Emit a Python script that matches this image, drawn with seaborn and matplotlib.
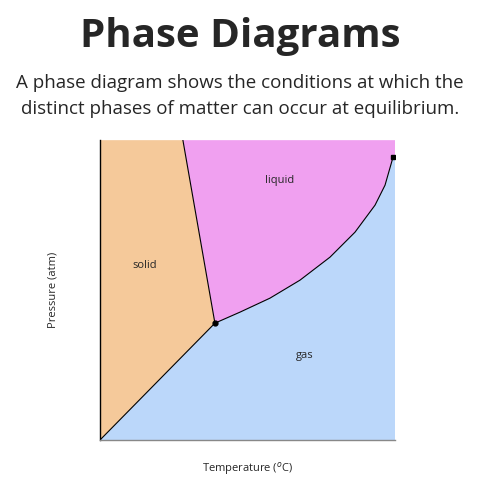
import seaborn as sns
import matplotlib.pyplot as plt
import numpy as np

sns.set_style("white")
plt.rcParams['font.family'] = ['Open Sans', 'DejaVu Sans']

# phase boundaries (arbitrary units)
sublimation_T = [0, 115]
sublimation_P = [0, 117]
melting_T = [115, 83]
melting_P = [117, 300]
vapor_T = [115, 140, 170, 200, 230, 255, 275, 285, 293]
vapor_P = [117, 128, 142, 160, 183, 208, 235, 255, 283]
phase_labels = ["solid", "liquid", "gas"]
label_T = [45, 180, 205]
label_P = [175, 260, 85]

T_max, P_max = 295, 300

fig = plt.figure(figsize=(4.8, 4.8), dpi=100)
ax = fig.add_axes([0.208, 0.083, 0.615, 0.625])

# gas region: below sublimation + vapour curve
gas_T = sublimation_T + vapor_T[1:] + [T_max, T_max]
gas_P = sublimation_P + vapor_P[1:] + [vapor_P[-1], 0]
ax.fill(gas_T + [0], gas_P + [0], color="#BBD7FA", lw=0)
# solid region
ax.fill([0, 0, melting_T[1], melting_T[0]], [0, P_max, P_max, melting_P[0]],
        color="#F5C99A", lw=0)
# liquid region
liq_T = [melting_T[1]] + vapor_T + [T_max, T_max]
liq_P = [P_max] + vapor_P + [vapor_P[-1], P_max]
ax.fill(liq_T, liq_P, color="#F0A0F0", lw=0)

sns.lineplot(x=sublimation_T, y=sublimation_P, color="black", lw=0.8, ax=ax)
sns.lineplot(x=melting_T, y=melting_P, color="black", lw=0.8, ax=ax)
ax.plot(vapor_T, vapor_P, color="black", lw=0.8)
ax.plot([vapor_T[0]], [vapor_P[0]], "o", color="black", ms=3.5)
ax.plot([vapor_T[-1]], [vapor_P[-1]], "s", color="black", ms=3.5)

for t, p, s in zip(label_T, label_P, phase_labels):
    ax.text(t, p, s, fontsize=8, ha="center", va="center")

ax.set_xlim(0, T_max)
ax.set_ylim(0, P_max)
ax.set_xticks([])
ax.set_yticks([])
for side in ["top", "right"]:
    ax.spines[side].set_visible(False)
ax.spines["left"].set_color("black")
ax.spines["bottom"].set_color("#888888")
for side in ["left", "bottom"]:
    ax.spines[side].set_linewidth(1)
ax.set_xlabel("Temperature ($^{o}$C)", fontsize=8, labelpad=14)
ax.set_ylabel("Pressure (atm)", fontsize=8, labelpad=30)

fig.text(0.5, 0.925, "Phase Diagrams", ha="center", va="center",
         fontsize=29, fontweight="bold")
fig.text(0.5, 0.80, "A phase diagram shows the conditions at which the\n"
         "distinct phases of matter can occur at equilibrium.",
         ha="center", va="center", fontsize=13.5, linespacing=1.5)

fig.savefig("out.png", dpi=100)
